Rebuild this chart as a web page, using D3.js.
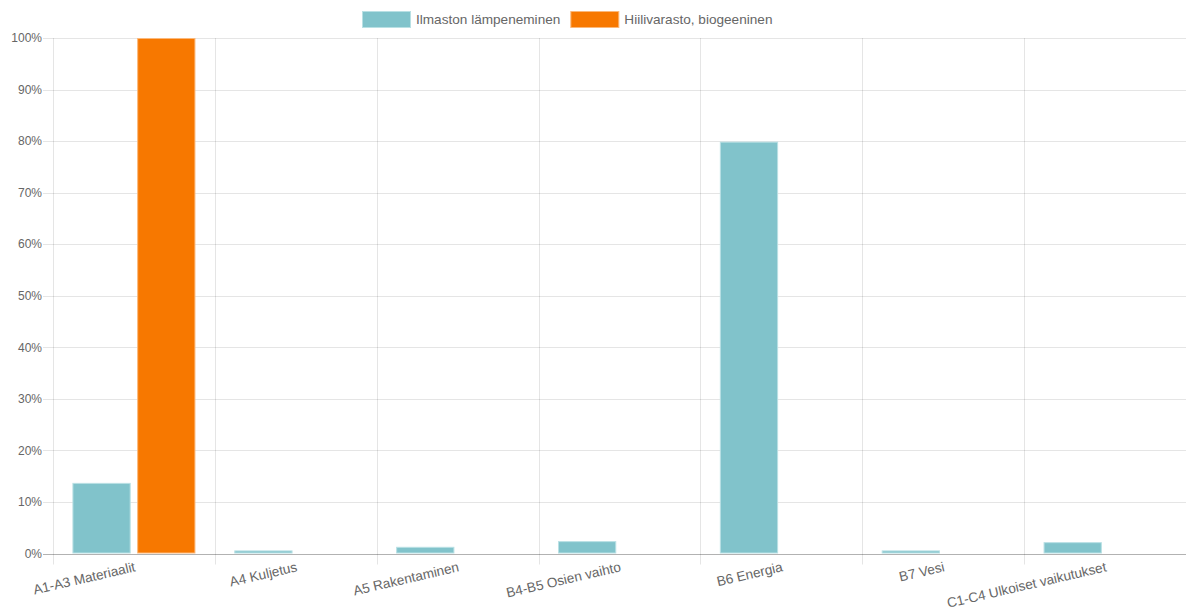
<!DOCTYPE html>
<html><head><meta charset="utf-8">
<script src="https://cdn.jsdelivr.net/npm/d3@7"></script>
<style>
html,body{margin:0;padding:0;background:#fff;}
svg{display:block;font-family:"Liberation Sans",Arial,Helvetica,sans-serif;}
</style></head>
<body>
<svg id="c" width="1186" height="614"></svg>
<script>
const categories = ["A1-A3 Materiaalit","A4 Kuljetus","A5 Rakentaminen","B4-B5 Osien vaihto","B6 Energia","B7 Vesi","C1-C4 Ulkoiset vaikutukset"];
const seriesNames = ["Ilmaston lämpeneminen","Hiilivarasto, biogeeninen"];
const climateWarming = [13.7, 0.6, 1.3, 2.4, 79.9, 0.6, 2.2];
const carbonStorage = [100, 0, 0, 0, 0, 0, 0];
const yTicks = [0,10,20,30,40,50,60,70,80,90,100];
const colors = ["#81c3cb","#f77800"];
const borders = ["#b9e0e4","#fbb87a"];

(function(){
const svg = d3.select("#c");
const pL = 53, pR = 1186, pT = 38, pB = 553.5;

const x0 = d3.scaleBand().domain(categories).range([pL, pR]).padding(0);
const bw = x0.bandwidth();
const x1 = d3.scaleBand().domain(seriesNames).range([bw*0.1, bw*0.9]).paddingInner(0.1).paddingOuter(0.05);
const y = d3.scaleLinear().domain([0,100]).range([pB, pT]);

svg.append("g").selectAll("line").data(yTicks.filter(t=>t!==0)).join("line")
  .attr("x1", pL-10).attr("x2", pR)
  .attr("y1", d=>Math.round(y(d))+0.5).attr("y2", d=>Math.round(y(d))+0.5)
  .attr("stroke","rgba(0,0,0,0.1)");
svg.append("g").selectAll("line").data(categories.map(c=>x0(c))).join("line")
  .attr("x1", d=>Math.round(d)+0.5).attr("x2", d=>Math.round(d)+0.5)
  .attr("y1", pT).attr("y2", pB+11)
  .attr("stroke","rgba(0,0,0,0.1)");

svg.append("g").selectAll("text").data(yTicks).join("text")
  .attr("x", 42).attr("y", d=>y(d)).attr("dy","0.35em")
  .attr("text-anchor","end").attr("fill","#666").attr("font-size","12px")
  .text(d=>d+"%");

const data = [climateWarming, carbonStorage];
const g = svg.append("g");
categories.forEach((c,i)=>{
  seriesNames.forEach((s,j)=>{
    const v = data[j][i];
    if (!v) return;
    const bx = x0(c)+x1(s);
    g.append("rect")
      .attr("x", bx+0.5).attr("y", y(v)+0.5)
      .attr("width", x1.bandwidth()-1).attr("height", Math.max(0, y(0)-y(v)-1))
      .attr("fill", colors[j]).attr("stroke", borders[j]).attr("stroke-width",1);
  });
});

svg.append("line").attr("x1", pL-10).attr("x2", pR)
  .attr("y1", Math.round(y(0))+0.5).attr("y2", Math.round(y(0))+0.5)
  .attr("stroke","rgba(0,0,0,0.3)");

svg.append("g").selectAll("text").data(categories).join("text")
  .attr("transform", d=>`translate(${x0(d)+bw/2+1},${pB+13}) rotate(-13)`)
  .attr("text-anchor","end").attr("dy","0.35em")
  .attr("fill","#666").attr("font-size","13.6px")
  .text(d=>d);

const leg = svg.append("g");
let lx = 362;
seriesNames.forEach((s,j)=>{
  leg.append("rect").attr("x", lx+0.5).attr("y", 11.5).attr("width", 48).attr("height", 16)
    .attr("fill", colors[j]).attr("stroke", borders[j]);
  const t = leg.append("text").attr("x", lx+54).attr("y", 19.5).attr("dy","0.35em")
    .attr("fill","#666").attr("font-size","13.6px").text(s);
  lx += 54 + t.node().getComputedTextLength() + 10;
});
})();
</script>
</body></html>
